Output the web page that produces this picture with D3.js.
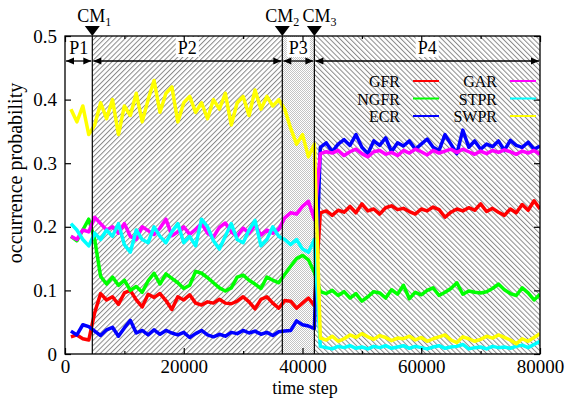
<html>
<head>
<style>
  body { margin: 0; background: #fff; }
  svg { font-family: "Liberation Serif", "DejaVu Serif", serif; }
</style>
</head>
<body>
<svg id="chart" width="568" height="403"></svg>
<script src="https://cdn.jsdelivr.net/npm/d3@7"></script>
<script>
// time steps, one sample every 1000 steps
var steps = d3.range(1000, 80001, 1000);

var GFR = [0.027,0.030,0.024,0.022,0.065,0.095,0.085,0.090,0.078,0.096,
  0.100,0.085,0.074,0.094,0.089,0.095,0.084,0.070,0.090,0.085,
  0.093,0.080,0.077,0.082,0.080,0.086,0.080,0.079,0.083,0.090,
  0.082,0.071,0.086,0.090,0.080,0.072,0.084,0.083,0.072,0.080,
  0.088,0.076,0.222,0.225,0.218,0.226,0.223,0.232,0.222,0.236,
  0.225,0.228,0.220,0.230,0.233,0.227,0.229,0.224,0.220,0.228,
  0.225,0.231,0.227,0.215,0.223,0.228,0.225,0.230,0.226,0.236,
  0.224,0.229,0.223,0.218,0.228,0.222,0.235,0.226,0.241,0.228];

var NGFR = [0.185,0.178,0.195,0.212,0.180,0.122,0.110,0.121,0.108,0.116,
  0.100,0.106,0.097,0.115,0.127,0.110,0.126,0.119,0.112,0.103,
  0.108,0.130,0.127,0.120,0.112,0.104,0.099,0.104,0.121,0.124,
  0.116,0.110,0.103,0.121,0.116,0.112,0.125,0.138,0.150,0.155,
  0.148,0.128,0.098,0.095,0.100,0.092,0.098,0.088,0.095,0.083,
  0.090,0.098,0.096,0.088,0.101,0.094,0.108,0.087,0.097,0.093,
  0.100,0.104,0.092,0.097,0.103,0.112,0.094,0.099,0.097,0.096,
  0.098,0.103,0.110,0.101,0.095,0.092,0.104,0.096,0.085,0.094];

var ECR = [0.036,0.030,0.046,0.043,0.036,0.029,0.038,0.042,0.028,0.041,
  0.053,0.033,0.037,0.030,0.038,0.031,0.037,0.033,0.030,0.034,
  0.026,0.032,0.037,0.030,0.027,0.031,0.028,0.034,0.032,0.037,
  0.033,0.036,0.031,0.034,0.029,0.035,0.036,0.037,0.052,0.046,
  0.044,0.040,0.325,0.332,0.318,0.330,0.337,0.328,0.345,0.325,
  0.315,0.335,0.328,0.340,0.318,0.332,0.327,0.335,0.322,0.330,
  0.338,0.325,0.320,0.345,0.330,0.315,0.352,0.325,0.335,0.322,
  0.330,0.326,0.335,0.320,0.336,0.328,0.325,0.333,0.322,0.327];

var GAR = [0.185,0.180,0.195,0.192,0.215,0.205,0.195,0.200,0.190,0.205,
  0.185,0.180,0.200,0.194,0.188,0.198,0.212,0.186,0.192,0.200,
  0.188,0.196,0.205,0.190,0.184,0.199,0.206,0.192,0.185,0.198,
  0.190,0.203,0.187,0.195,0.190,0.196,0.214,0.222,0.220,0.232,
  0.240,0.212,0.315,0.318,0.316,0.320,0.312,0.318,0.322,0.315,
  0.310,0.318,0.320,0.314,0.317,0.312,0.320,0.316,0.322,0.318,
  0.313,0.320,0.316,0.319,0.322,0.317,0.322,0.318,0.314,0.319,
  0.315,0.320,0.317,0.321,0.318,0.314,0.319,0.316,0.320,0.314];

var STPR = [0.205,0.195,0.180,0.170,0.190,0.180,0.195,0.185,0.205,0.172,
  0.160,0.195,0.180,0.175,0.200,0.185,0.175,0.192,0.205,0.175,
  0.185,0.170,0.212,0.200,0.178,0.165,0.185,0.205,0.180,0.175,
  0.195,0.210,0.170,0.180,0.200,0.185,0.180,0.172,0.180,0.165,
  0.160,0.180,0.012,0.010,0.008,0.012,0.010,0.013,0.009,0.011,
  0.008,0.012,0.010,0.013,0.009,0.011,0.013,0.009,0.012,0.010,
  0.008,0.011,0.013,0.009,0.011,0.012,0.015,0.008,0.010,0.011,
  0.008,0.012,0.010,0.011,0.009,0.012,0.014,0.010,0.015,0.020];

var SWPR = [0.385,0.365,0.390,0.345,0.360,0.395,0.370,0.400,0.345,0.390,
  0.375,0.410,0.365,0.400,0.430,0.380,0.410,0.420,0.365,0.395,
  0.405,0.380,0.395,0.370,0.400,0.385,0.410,0.360,0.395,0.405,
  0.375,0.415,0.385,0.405,0.390,0.400,0.385,0.355,0.330,0.345,
  0.310,0.330,0.025,0.022,0.028,0.020,0.024,0.030,0.026,0.032,
  0.027,0.023,0.029,0.026,0.021,0.025,0.024,0.028,0.022,0.026,
  0.020,0.024,0.027,0.030,0.022,0.018,0.027,0.024,0.020,0.023,
  0.028,0.025,0.030,0.026,0.022,0.016,0.024,0.020,0.026,0.032];

var seriesNames = ["GFR", "NGFR", "ECR", "GAR", "STPR", "SWPR"];
var seriesValues = [GFR, NGFR, ECR, GAR, STPR, SWPR];
var seriesColors = ["#ff0000", "#00ff00", "#0000ff", "#ff00ff", "#00ffff", "#ffff00"];

// change points and phases
var changePoints = [4600, 36600, 42000];
var changeLabels = ["1", "2", "3"];
var phaseNames = ["P1", "P2", "P3", "P4"];
var phaseBounds = [0, 4600, 36600, 42000, 80000];

var xMajor = [0, 20000, 40000, 60000, 80000];
var xMinor = [10000, 30000, 50000, 70000];
var yTicks = [0, 0.1, 0.2, 0.3, 0.4, 0.5];

var L = 65, R = 540, T = 36, B = 354;
var x = d3.scaleLinear().domain([0, 80000]).range([L, R]);
var y = d3.scaleLinear().domain([0, 0.5]).range([B, T]);

var svg = d3.select('#chart');
var defs = svg.append('defs');

defs.append('clipPath').attr('id', 'clip')
  .append('rect').attr('x', L).attr('y', T).attr('width', R - L).attr('height', B - T);

function hatch(id, angle) {
  var p = defs.append('pattern').attr('id', id)
    .attr('patternUnits', 'userSpaceOnUse')
    .attr('width', 3.6).attr('height', 3.6)
    .attr('patternTransform', 'rotate(' + angle + ')');
  p.append('rect').attr('width', 3.6).attr('height', 3.6).attr('fill', '#fff');
  p.append('line').attr('x1', 0.5).attr('y1', 0).attr('x2', 0.5).attr('y2', 3.6)
    .attr('stroke', '#8a8a8a').attr('stroke-width', 1);
}
hatch('hatchP2', 45);
hatch('hatchP4', -45);

var chk = defs.append('pattern').attr('id', 'checkP3')
  .attr('patternUnits', 'userSpaceOnUse').attr('width', 2).attr('height', 2);
chk.append('rect').attr('width', 2).attr('height', 2).attr('fill', '#fff');
chk.append('rect').attr('width', 1).attr('height', 1).attr('fill', '#c4c4c4');
chk.append('rect').attr('x', 1).attr('y', 1).attr('width', 1).attr('height', 1).attr('fill', '#c4c4c4');

var fills = ['#fff', 'url(#hatchP2)', 'url(#checkP3)', 'url(#hatchP4)'];

svg.append('g').selectAll('rect')
  .data(phaseNames)
  .enter().append('rect')
  .attr('x', function(d, i) { return x(phaseBounds[i]); })
  .attr('y', T)
  .attr('width', function(d, i) { return x(phaseBounds[i + 1]) - x(phaseBounds[i]); })
  .attr('height', B - T)
  .attr('fill', function(d, i) { return fills[i]; });

// series lines
var line = d3.line()
  .x(function(d, i) { return x(steps[i]); })
  .y(function(d) { return y(d); });

svg.append('g').attr('clip-path', 'url(#clip)')
  .selectAll('path')
  .data(seriesValues)
  .enter().append('path')
  .attr('d', line)
  .attr('fill', 'none')
  .attr('stroke', function(d, i) { return seriesColors[i]; })
  .attr('stroke-width', 3.5)
  .attr('stroke-linejoin', 'round');

// change point vertical lines
svg.append('g').selectAll('line')
  .data(changePoints)
  .enter().append('line')
  .attr('x1', function(d) { return x(d); })
  .attr('x2', function(d) { return x(d); })
  .attr('y1', T).attr('y2', B)
  .attr('stroke', '#000').attr('stroke-width', 1.2);

// phase arrows
var arrowY = 61;
var arrows = svg.append('g');
phaseNames.forEach(function(name, i) {
  var a = x(phaseBounds[i]) + 1, b = x(phaseBounds[i + 1]) - 1;
  arrows.append('line').attr('x1', a).attr('x2', b).attr('y1', arrowY).attr('y2', arrowY)
    .attr('stroke', '#000').attr('stroke-width', 1.3);
  arrows.append('path')
    .attr('d', 'M' + a + ',' + arrowY + 'l8,-3.5v7z')
    .attr('fill', '#000');
  arrows.append('path')
    .attr('d', 'M' + b + ',' + arrowY + 'l-8,-3.5v7z')
    .attr('fill', '#000');
  var cx = (x(phaseBounds[i]) + x(phaseBounds[i + 1])) / 2;
  var t = arrows.append('text').attr('x', cx).attr('y', 54)
    .attr('text-anchor', 'middle').attr('font-size', 18).text(name);
  var bb = t.node().getBBox();
  arrows.insert('rect', function() { return t.node(); })
    .attr('x', bb.x - 2).attr('y', T + 1).attr('width', bb.width + 4).attr('height', 20)
    .attr('fill', '#fff');
});

// frame
svg.append('rect').attr('x', L).attr('y', T).attr('width', R - L).attr('height', B - T)
  .attr('fill', 'none').attr('stroke', '#000').attr('stroke-width', 1.3);

// axes, gnuplot style ticks inside
svg.append('g').attr('transform', 'translate(0,' + B + ')')
  .call(d3.axisBottom(x).tickValues(xMajor).tickSizeInner(-6).tickSizeOuter(0).tickPadding(6).tickFormat(d3.format('d')));
svg.append('g').attr('transform', 'translate(0,' + T + ')')
  .call(d3.axisTop(x).tickValues(xMajor).tickSizeInner(-6).tickSizeOuter(0).tickFormat(''));
svg.append('g').attr('transform', 'translate(0,' + B + ')')
  .call(d3.axisBottom(x).tickValues(xMinor).tickSizeInner(-3).tickSizeOuter(0).tickFormat(''));
svg.append('g').attr('transform', 'translate(0,' + T + ')')
  .call(d3.axisTop(x).tickValues(xMinor).tickSizeInner(-3).tickSizeOuter(0).tickFormat(''));
svg.append('g').attr('transform', 'translate(' + L + ',0)')
  .call(d3.axisLeft(y).tickValues(yTicks).tickSizeInner(-6).tickSizeOuter(0).tickPadding(8).tickFormat(d3.format('')));
svg.append('g').attr('transform', 'translate(' + R + ',0)')
  .call(d3.axisRight(y).tickValues(yTicks).tickSizeInner(-6).tickSizeOuter(0).tickFormat(''));

svg.selectAll('.domain').remove();
svg.selectAll('.tick line').attr('stroke', '#000').attr('stroke-width', 1.2);
svg.selectAll('.tick text').attr('font-size', 19).attr('font-family', '"Liberation Serif", serif').attr('fill', '#000');

// change point markers
var cmShift = [-15, -17, -12];
var cm = svg.append('g');
changePoints.forEach(function(d, i) {
  var px = x(d);
  cm.append('path').attr('d', 'M' + (px - 7.5) + ',' + (T - 10) + 'h15l-7.5,10z').attr('fill', '#000');
  var t = cm.append('text').attr('x', px + cmShift[i]).attr('y', 22).attr('font-size', 18);
  t.append('tspan').text('CM');
  t.append('tspan').attr('font-size', 12).attr('dy', 4).text(changeLabels[i]);
});

// axis titles
svg.append('text').attr('x', 305).attr('y', 394).attr('text-anchor', 'middle')
  .attr('font-size', 18).text('time step');
svg.append('text').attr('transform', 'translate(22,173) rotate(-90)')
  .attr('text-anchor', 'middle').attr('font-size', 20).text('occurrence probability');

// legend, two columns
var legend = svg.append('g');
seriesNames.forEach(function(name, i) {
  var col = Math.floor(i / 3), row = i % 3;
  var tx = col === 0 ? 400 : 497;
  var ly = 81 + row * 17.5;
  legend.append('text').attr('x', tx).attr('y', ly + 6).attr('text-anchor', 'end')
    .attr('font-size', 16).text(name);
  legend.append('line').attr('x1', tx + 13).attr('x2', tx + 39).attr('y1', ly).attr('y2', ly)
    .attr('stroke', seriesColors[i]).attr('stroke-width', 2);
});
</script>
</body>
</html>
